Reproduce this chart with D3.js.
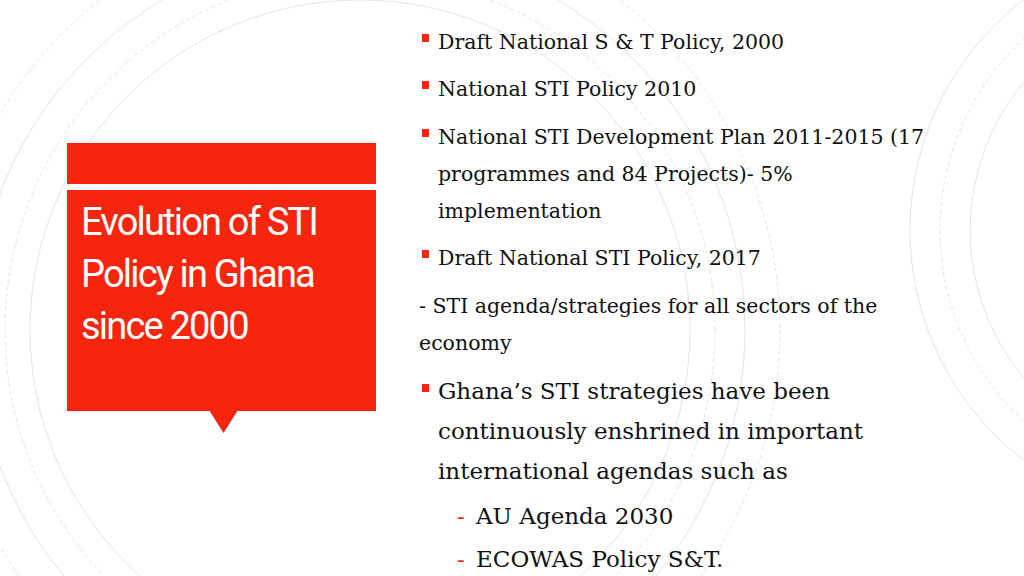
<!DOCTYPE html><html><head><meta charset="utf-8">
<script src="https://cdn.jsdelivr.net/npm/d3@7"></script>
<style>body{margin:0;background:#fff}</style></head><body><svg id="s" width="1024" height="576"></svg>
<script>
const titleLines=["Evolution of STI","Policy in Ghana","since 2000"];
const items=[
 {t:"bullet",lines:["Draft National S & T Policy, 2000"],y:[42],fs:20.5},
 {t:"bullet",lines:["National STI Policy 2010"],y:[89],fs:20.5},
 {t:"bullet",lines:["National STI Development Plan 2011-2015 (17","programmes and 84 Projects)- 5%","implementation"],y:[137,174,211],fs:20.5},
 {t:"bullet",lines:["Draft National STI Policy, 2017"],y:[258],fs:20.5},
 {t:"plain",lines:["- STI agenda/strategies for all sectors of the","economy"],y:[306,343],fs:20.5},
 {t:"bullet",lines:["Ghana’s STI strategies have been","continuously enshrined in important","international agendas such as"],y:[392,432,472],fs:23},
 {t:"dash",lines:["AU Agenda 2030"],y:[517],fs:23},
 {t:"dash",lines:["ECOWAS Policy S&T."],y:[560],fs:23}
];
const red="#f5260d";
const svg=d3.select("#s");
const g=svg.append("g").attr("fill","none").attr("stroke","#e4e4e4").attr("stroke-width",1);
[330,355,385,420].forEach((r,i)=>g.append("circle").attr("cx",360).attr("cy",330).attr("r",r).attr("stroke-dasharray",i%2?"4,3":null));
[230,260,290].forEach((r,i)=>g.append("circle").attr("cx",1200).attr("cy",230).attr("r",r).attr("stroke-dasharray",i%2?"4,3":null));
svg.append("rect").attr("x",67).attr("y",143).attr("width",309).attr("height",41).attr("fill",red);
svg.append("rect").attr("x",67).attr("y",190).attr("width",309).attr("height",221).attr("fill",red);
svg.append("path").attr("d","M209,410 L238,410 L223.5,433 Z").attr("fill",red);
svg.selectAll("text.t").data(titleLines).join("text").attr("class","t")
 .attr("x",81).attr("y",(d,i)=>235+i*52).attr("fill","#fff")
 .attr("font-family","Liberation Sans Narrow, Roboto, sans-serif").attr("font-size",38).attr("letter-spacing",-1.8).text(d=>d);
const ff="DejaVu Serif, serif";
items.forEach(it=>{
 it.lines.forEach((l,i)=>{
  let x=438;
  if(it.t==="plain") x=419;
  if(it.t==="dash") x=476;
  svg.append("text").attr("x",x).attr("y",it.y[i]+7).attr("font-family",ff).attr("font-size",it.fs).attr("fill","#111").text(l);
 });
 if(it.t==="bullet") svg.append("rect").attr("x",422).attr("y",it.y[0]-8).attr("width",7).attr("height",8).attr("fill",red);
 if(it.t==="dash") svg.append("text").attr("x",457).attr("y",it.y[0]+7).attr("font-family",ff).attr("font-size",it.fs).attr("fill",red).text("-");
});
</script></body></html>
